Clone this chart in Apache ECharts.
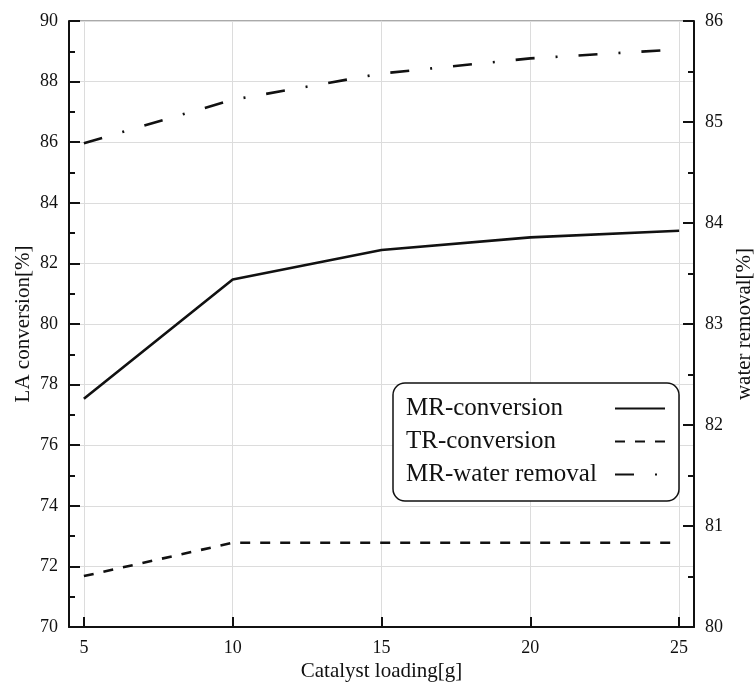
<!DOCTYPE html>
<html>
<head>
<meta charset="utf-8">
<script src="https://cdn.jsdelivr.net/npm/echarts@6/dist/echarts.min.js"></script>
<style>
  html, body { margin: 0; padding: 0; background: #fff; }
  #main-chart { width: 755px; height: 684px; }
</style>
</head>
<body>
<div id="main-chart"></div>
<script>
const loading = [5, 10, 15, 20, 25];
const xTicks = [5, 10, 15, 20, 25];
const mrConversion = [77.53, 81.47, 82.44, 82.86, 83.08];
const trConversion = [71.68, 72.78, 72.78, 72.78, 72.78];
const mrWaterRemoval = [84.79, 85.22, 85.48, 85.63, 85.72];
const seriesNames = ["MR-conversion", "TR-conversion", "MR-water removal"];

const font = "'Liberation Serif', 'Times New Roman', serif";
const ink = "#111";

const pairs = (ys) => loading.map((x, i) => [x, ys[i]]);

const chart = echarts.init(document.getElementById("main-chart"));

const yAxisBase = {
  type: "value",
  nameLocation: "middle",
  nameRotate: 90,
  nameMoveOverlap: false,
  nameTextStyle: { fontFamily: font, fontSize: 21, color: ink },
  axisLine: { show: true, lineStyle: { color: ink, width: 2 } },
  axisTick: { show: true, inside: true, length: 11, lineStyle: { color: ink, width: 2 } },
  minorTick: { show: true, splitNumber: 2, length: 6, lineStyle: { color: ink, width: 2 } },
  axisLabel: { fontFamily: font, fontSize: 18, color: ink, margin: 11 }
};

chart.setOption({
  animation: false,
  backgroundColor: "#fff",
  grid: {
    left: 69, right: 61, top: 21, bottom: 57,
    outerBoundsMode: "none",
    containLabel: false,
    show: true, borderColor: "#555", borderWidth: 1
  },
  legend: {
    orient: "vertical",
    left: 393,
    top: 383,
    align: "right",
    padding: [13, 13, 14, 13],
    itemGap: 8,
    itemWidth: 50,
    itemHeight: 14,
    backgroundColor: "#fff",
    borderColor: ink,
    borderWidth: 1.5,
    borderRadius: 12,
    itemStyle: { opacity: 0 },
    data: seriesNames,
    formatter: (name) => "{a|" + name + "}",
    textStyle: {
      fontFamily: font, fontSize: 25, color: ink,
      rich: { a: { fontFamily: font, fontSize: 25, color: ink, width: 204, align: "left", lineHeight: 25 } }
    }
  },
  xAxis: {
    type: "value",
    min: 4.5,
    max: 25.5,
    name: "Catalyst loading[g]",
    nameLocation: "middle",
    nameMoveOverlap: false,
    nameGap: 34,
    nameTextStyle: { fontFamily: font, fontSize: 21, color: ink },
    axisLine: { lineStyle: { color: ink, width: 2 } },
    axisTick: { inside: true, length: 10, customValues: xTicks, lineStyle: { color: ink, width: 2 } },
    axisLabel: { customValues: xTicks, fontFamily: font, fontSize: 18, color: ink, margin: 12 },
    splitLine: { show: true, lineStyle: { color: "#dcdcdc", width: 1 } }
  },
  yAxis: [
    Object.assign({}, yAxisBase, {
      position: "left",
      min: 70, max: 90, interval: 2,
      name: "LA conversion[%]",
      nameGap: 35,
      splitLine: { show: true, lineStyle: { color: "#dcdcdc", width: 1 } }
    }),
    Object.assign({}, yAxisBase, {
      position: "right",
      min: 80, max: 86, interval: 1,
      name: "water removal[%]",
      nameGap: 40,
      splitLine: { show: false }
    })
  ],
  series: [
    {
      name: seriesNames[0], type: "line", yAxisIndex: 0, symbol: "none",
      data: pairs(mrConversion),
      lineStyle: { color: ink, width: 2.6, type: "solid" }
    },
    {
      name: seriesNames[1], type: "line", yAxisIndex: 0, symbol: "none",
      data: pairs(trConversion),
      lineStyle: { color: ink, width: 2.6, type: [10, 10] }
    },
    {
      name: seriesNames[2], type: "line", yAxisIndex: 1, symbol: "none",
      data: pairs(mrWaterRemoval),
      lineStyle: { color: ink, width: 2.6, type: [19, 21, 2, 21] }
    }
  ]
});

window.addEventListener("resize", () => {
  chart.resize();
});
</script>
</body>
</html>
